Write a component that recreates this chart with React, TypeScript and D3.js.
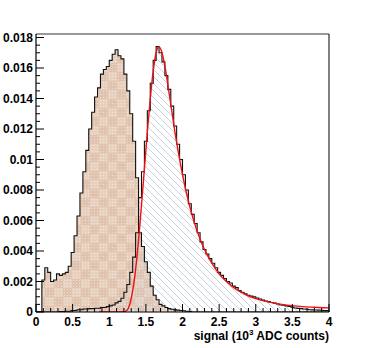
import React from 'react';
import * as d3 from 'd3';

const W = 366;
const H = 348;
const frame = { left: 36, top: 34, right: 329, bottom: 312 };

// axis ticks
const xTicks = [0, 0.5, 1, 1.5, 2, 2.5, 3, 3.5, 4];
const xTickLabels = ['0', '0.5', '1', '1.5', '2', '2.5', '3', '3.5', '4'];
const yTicks = [0, 0.002, 0.004, 0.006, 0.008, 0.01, 0.012, 0.014, 0.016, 0.018];
const yTickLabels = ['0', '0.002', '0.004', '0.006', '0.008', '0.01', '0.012', '0.014', '0.016', '0.018'];

// histograms, 100 bins of 0.04 from 0 to 4
const binWidth = 0.04;
const tanCounts = [
  0, 0, 0.0021, 0.0029, 0.0026, 0.002, 0.0021, 0.0025, 0.0024, 0.0025,
  0.0026, 0.003, 0.0039, 0.005, 0.0063, 0.0078, 0.0092, 0.0106, 0.012, 0.0131,
  0.0141, 0.0147, 0.0156, 0.0159, 0.0161, 0.0165, 0.0169, 0.0172, 0.0168, 0.0166,
  0.0156, 0.0145, 0.013, 0.0112, 0.0088, 0.0052, 0.0043, 0.0033, 0.0026, 0.0017,
  0.0011, 0.0008, 0.0005, 0.0004, 0.0003, 0.00022, 0.00018, 0.00014, 0.00012, 0.0001,
  0.00008, 0.00005, 0.00003, 0, 0, 0, 0, 0, 0, 0,
  0, 0, 0, 0, 0, 0, 0, 0, 0, 0,
  0, 0, 0, 0, 0, 0, 0, 0, 0, 0,
  0, 0, 0, 0, 0, 0, 0, 0, 0, 0,
  0, 0, 0, 0, 0, 0, 0, 0, 0, 0,
];
const blueCounts = [
  0, 0, 0, 0, 0, 0, 0, 0, 0.00003, 0.00003,
  0.00005, 0.00005, 0.0001, 0.0001, 0.00015, 0.00015, 0.0002, 0.0002, 0.00022, 0.00022,
  0.00025, 0.00025, 0.0003, 0.0003, 0.00035, 0.0004, 0.00046, 0.0006, 0.0007, 0.0009,
  0.0013, 0.0018, 0.0026, 0.0036, 0.0052, 0.0075, 0.0092, 0.0112, 0.0132, 0.015,
  0.0165, 0.0174, 0.017, 0.0164, 0.0155, 0.0146, 0.0135, 0.0122, 0.011, 0.01,
  0.009, 0.008, 0.0071, 0.0064, 0.0058, 0.0052, 0.0046, 0.0041, 0.0038, 0.0035,
  0.0032, 0.0029, 0.0026, 0.0024, 0.0022, 0.002, 0.0019, 0.0017, 0.0016, 0.0014,
  0.0013, 0.0012, 0.0011, 0.00105, 0.001, 0.00092, 0.00085, 0.00078, 0.00072, 0.00068,
  0.00062, 0.00058, 0.00052, 0.00046, 0.00044, 0.0004, 0.00036, 0.00032, 0.00026, 0.00024,
  0.00022, 0.0002, 0.00018, 0.00015, 0.00014, 0.00013, 0.00012, 0.00011, 0.0001, 0.0001,
];

// fit curve
const fitX = [0.86, 1.0, 1.1, 1.2, 1.24, 1.28, 1.32, 1.36, 1.4, 1.44, 1.48, 1.52, 1.56, 1.6, 1.64, 1.68,
  1.72, 1.76, 1.8, 1.85, 1.9, 1.95, 2.0, 2.1, 2.2, 2.3, 2.4, 2.5, 2.6, 2.7, 2.8, 2.9, 3.0, 3.2, 3.4, 3.6, 3.8, 4.0];
const fitY = [0, 0, 0, 0.00002, 0.0001, 0.0005, 0.0014, 0.0028, 0.0047, 0.007, 0.0094, 0.0118, 0.014, 0.0158, 0.017, 0.0174,
  0.017, 0.0161, 0.0149, 0.0133, 0.0117, 0.0103, 0.009, 0.0069, 0.0053, 0.0041, 0.0032, 0.0025, 0.002, 0.0016, 0.0013, 0.00105,
  0.00088, 0.00063, 0.00047, 0.00037, 0.00031, 0.00027];

const font = "'Liberation Sans', Arial, Helvetica, sans-serif";

const x = d3.scaleLinear().domain([0, 4]).range([frame.left, frame.right]);
const y = d3.scaleLinear().domain([0, 0.01823]).range([frame.bottom, frame.top]);

// step points for a histogram
const histPoints = (counts: number[]) => {
  const pts: [number, number][] = [[0, 0]];
  counts.forEach((c, i) => pts.push([i * binWidth, c]));
  pts.push([counts.length * binWidth, counts[counts.length - 1]]);
  pts.push([counts.length * binWidth, 0]);
  return pts;
};

const area = d3.area<[number, number]>()
  .x(d => x(d[0]))
  .y0(y(0))
  .y1(d => y(d[1]))
  .curve(d3.curveStepAfter);

const line = d3.line<[number, number]>()
  .x(d => x(d[0]))
  .y(d => y(d[1]))
  .curve(d3.curveStepAfter);

const fitLine = d3.line<number>()
  .x(d => x(d))
  .y((d, i) => y(fitY[i]))
  .curve(d3.curveMonotoneX);

const xMinor = d3.range(0, 41).map(i => i / 10).filter((v, i) => i % 5 !== 0);
const yMinor = d3.range(0, 37).map(i => i * 0.0005).filter((v, i) => i % 4 !== 0);

export default function App() {
  const tanPts = histPoints(tanCounts);
  const bluePts = histPoints(blueCounts);

  return (
    <svg width={W} height={H} style={{ position: 'absolute', left: 0, top: 0, background: '#fff' }}
      fontFamily={font}>
      <defs>
        <pattern id="tanFill" patternUnits="userSpaceOnUse" width={18} height={18}>
          <rect width={18} height={18} fill="#e0c3ae" />
          <rect width={9} height={9} fill="#e8d0bf" />
          <rect x={9} y={9} width={9} height={9} fill="#e8d0bf" />
          {d3.range(0, 6).map(i => d3.range(0, 6).map(j => (
            <rect key={`${i}-${j}`} x={i * 3 + 1} y={j * 3 + 1} width={1} height={1} fill="#fff" opacity={0.4} />
          )))}
        </pattern>
        <pattern id="blueHatch" patternUnits="userSpaceOnUse" width={7} height={7}>
          <path d="M0,0 L7,7 M-1,6 L1,8 M6,-1 L8,1" stroke="#c3cfdc" strokeWidth={0.9} />
        </pattern>
        <clipPath id="frameClip">
          <rect x={frame.left} y={frame.top} width={frame.right - frame.left} height={frame.bottom - frame.top} />
        </clipPath>
      </defs>

      <g clipPath="url(#frameClip)">
        <path d={area(tanPts) || ''} fill="url(#tanFill)" />
        <path d={area(bluePts) || ''} fill="url(#blueHatch)" />
        <path d={line(tanPts) || ''} fill="none" stroke="#111" strokeWidth={1.1} />
        <path d={line(bluePts) || ''} fill="none" stroke="#111" strokeWidth={1.1} />
        <path d={fitLine(fitX) || ''} fill="none" stroke="#f01010" strokeWidth={1.4} />
      </g>

      {/* frame */}
      <line x1={frame.left} x2={frame.right} y1={frame.top} y2={frame.top} stroke="#777" strokeWidth={1.5} />
      <line x1={frame.right} x2={frame.right} y1={frame.top} y2={frame.bottom} stroke="#000" strokeWidth={1} />
      <line x1={frame.left} x2={frame.left} y1={frame.top} y2={frame.bottom} stroke="#000" strokeWidth={1.2} />
      <line x1={frame.left} x2={frame.right} y1={frame.bottom} y2={frame.bottom} stroke="#000" strokeWidth={1.2} />

      {/* y axis */}
      {yTicks.map((t, i) => (
        <g key={`y${i}`}>
          <line x1={frame.left} x2={frame.left + 8} y1={y(t)} y2={y(t)} stroke="#000" />
          <text x={frame.left - 3} y={y(t)} dy="0.36em" textAnchor="end" fontSize={12} fontWeight="bold">
            {yTickLabels[i]}
          </text>
        </g>
      ))}
      {yMinor.map((t, i) => (
        <line key={`ym${i}`} x1={frame.left} x2={frame.left + 4} y1={y(t)} y2={y(t)} stroke="#000" />
      ))}

      {/* x axis */}
      {xTicks.map((t, i) => (
        <g key={`x${i}`}>
          <line x1={x(t)} x2={x(t)} y1={frame.bottom} y2={frame.bottom - 8} stroke="#000" />
          <text x={x(t)} y={frame.bottom + 14} textAnchor="middle" fontSize={12} fontWeight="bold">
            {xTickLabels[i]}
          </text>
        </g>
      ))}
      {xMinor.map((t, i) => (
        <line key={`xm${i}`} x1={x(t)} x2={x(t)} y1={frame.bottom} y2={frame.bottom - 4} stroke="#000" />
      ))}

      <text x={frame.right} y={frame.bottom + 28} textAnchor="end" fontSize={12} fontWeight="bold">
        signal (10<tspan dy={-5} fontSize={8}>3</tspan><tspan dy={5}> ADC counts)</tspan>
      </text>
    </svg>
  );
}
